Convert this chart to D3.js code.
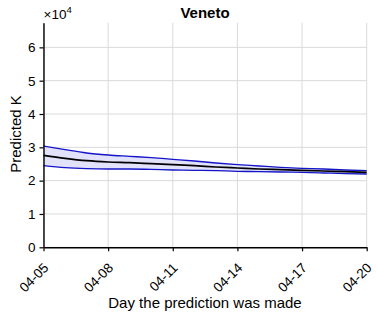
<!DOCTYPE html>
<html><head><meta charset="utf-8">
<script src="https://cdn.jsdelivr.net/npm/d3@7"></script>
<style>body{margin:0;background:#fff}svg{display:block;font-family:"Liberation Sans",Arial,sans-serif}</style>
</head><body><svg id="c" width="377" height="316"></svg>
<script>
const days = ["04-05","04-06","04-07","04-08","04-09","04-10","04-11","04-12","04-13","04-14","04-15","04-16","04-17","04-18","04-19","04-20"];
const upper = [3.04,2.93,2.83,2.77,2.73,2.69,2.64,2.59,2.53,2.48,2.44,2.40,2.37,2.35,2.32,2.30];
const mean  = [2.76,2.67,2.60,2.56,2.54,2.51,2.48,2.45,2.41,2.38,2.35,2.33,2.31,2.29,2.27,2.25];
const lower = [2.45,2.39,2.36,2.35,2.35,2.34,2.32,2.31,2.30,2.28,2.27,2.26,2.25,2.23,2.21,2.20];
const xTickLabels = ["04-05","04-08","04-11","04-14","04-17","04-20"];
const yTicks = [0,1,2,3,4,5,6];

const svg = d3.select("#c");
const L=43.5, R=366.7, T=22.7, B=247.3;
const x = d3.scalePoint().domain(days).range([L,R]);
const y = d3.scaleLinear().domain([0,6.74]).range([B,T]);

const g = svg.append("g");
// grid
g.selectAll(".gx").data(xTickLabels).join("line")
 .attr("x1",d=>x(d)).attr("x2",d=>x(d)).attr("y1",T).attr("y2",B)
 .attr("stroke","#dadada").attr("stroke-width",1);
g.selectAll(".gy").data(yTicks).join("line")
 .attr("x1",L).attr("x2",R).attr("y1",d=>y(d)).attr("y2",d=>y(d))
 .attr("stroke","#dadada").attr("stroke-width",1);

const idx = d3.range(days.length);
const area = d3.area().x(i=>x(days[i])).y0(i=>y(lower[i])).y1(i=>y(upper[i])).curve(d3.curveMonotoneX);
g.append("path").datum(idx).attr("d",area).attr("fill","#e2e2fb");
const line = arr => d3.line().x(i=>x(days[i])).y(i=>y(arr[i])).curve(d3.curveMonotoneX)(idx);
g.append("path").attr("d",line(upper)).attr("fill","none").attr("stroke","#1414c8").attr("stroke-width",1.3);
g.append("path").attr("d",line(lower)).attr("fill","none").attr("stroke","#1414c8").attr("stroke-width",1.3);
g.append("path").attr("d",line(mean)).attr("fill","none").attr("stroke","#000").attr("stroke-width",1.7);

// axes
const xa = d3.axisBottom(x).tickValues(xTickLabels).tickSize(4).tickSizeOuter(0);
const xg = svg.append("g").attr("transform",`translate(0,${B})`).call(xa);
xg.select(".domain").attr("stroke","#000").attr("stroke-width",1.4);
xg.selectAll(".tick line").attr("stroke","#000").attr("stroke-width",1.2);
xg.selectAll(".tick text").attr("font-size",13.5).attr("fill","#000")
 .attr("text-anchor","end").attr("dy","0.35em")
 .attr("transform","translate(2,18) rotate(-45)").attr("y",0).attr("x",0);

const ya = d3.axisLeft(y).tickValues(yTicks).tickSize(4).tickSizeOuter(0).tickFormat(d3.format("d"));
const yg = svg.append("g").attr("transform",`translate(${L},0)`).call(ya);
yg.select(".domain").attr("stroke","#000").attr("stroke-width",1.4);
yg.selectAll(".tick line").attr("stroke","#000").attr("stroke-width",1.2);
yg.selectAll(".tick text").attr("font-size",13.5).attr("fill","#000").attr("x",-8);

// labels
const mult = svg.append("text").attr("x",L).attr("y",19).attr("font-size",13.5).attr("fill","#000");
mult.append("tspan").text("×10");
mult.append("tspan").attr("font-size",9.5).attr("dy",-6).text("4");
svg.append("text").attr("x",205).attr("y",18).attr("text-anchor","middle").attr("font-size",15).attr("font-weight","bold").text("Veneto");
svg.append("text").attr("x",205).attr("y",308).attr("text-anchor","middle").attr("font-size",15).text("Day the prediction was made");
svg.append("text").attr("transform","translate(21,134) rotate(-90)").attr("text-anchor","middle").attr("font-size",15).text("Predicted K");
</script></body></html>
